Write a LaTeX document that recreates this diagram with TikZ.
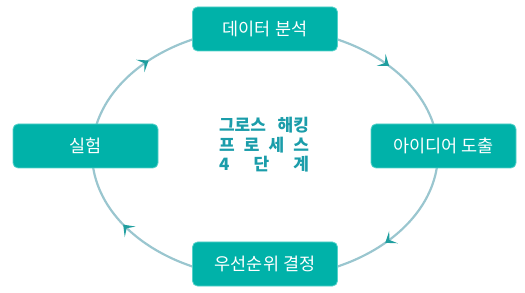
\documentclass[tikz,border=0pt]{standalone}
\usepackage{xcolor}
\usepackage{fontspec}
\setmainfont{Noto Sans CJK KR}
\usepackage{tikz}
\usetikzlibrary{arrows.meta,decorations.markings}

\definecolor{stagefill}{HTML}{00B2A9}
\definecolor{stageedge}{HTML}{55D2CA}
\definecolor{ringline}{HTML}{9AC6CF}
\definecolor{headteal}{HTML}{1F9E9F}
\definecolor{titleteal}{HTML}{1B9DAA}

\tikzset{
  cyclehead/.tip={Stealth[length=10pt,width=15pt,inset=5pt,line width=1.8pt,color=headteal]},
  ring/.style={draw=ringline, line width=2.2pt, postaction={decorate},
    decoration={markings,
      mark=at position 0.11 with {\arrowreversed{cyclehead}},
      mark=at position 0.38 with {\arrowreversed{cyclehead}},
      mark=at position 0.585 with {\arrowreversed{cyclehead}},
      mark=at position 0.885 with {\arrowreversed{cyclehead}}}},
  stage/.style={draw=stageedge, line width=0.8pt, fill=stagefill, rounded corners=5pt,
    minimum width=145pt, minimum height=44pt, inner sep=0pt, text=white,
    font=\fontsize{17.5}{20}\selectfont},
  steptitle/.style={align=center, text=titleteal, inner sep=0pt,
    font=\fontsize{17}{19.5}\selectfont\bfseries}
}

\begin{document}
\begin{tikzpicture}[x=1pt,y=1pt]
\useasboundingbox (0,0) rectangle (525,292);
\draw[ring] (265,139) ellipse [x radius=173pt, y radius=125pt];
\node[stage] (analysis) at (265,263) {데이터 분석};
\node[stage] (ideas) at (443.5,146) {아이디어 도출};
\node[stage] (priority) at (265,28) {우선순위 결정};
\node[stage] (test) at (85.5,146) {실험};
\node[steptitle] (steps) at (264,147) {\makebox[90pt][s]{그로스 해킹}\\
  \makebox[90pt][s]{프 로 세 스}\\
  \makebox[90pt][s]{4 단 계}};
\end{tikzpicture}
\end{document}
